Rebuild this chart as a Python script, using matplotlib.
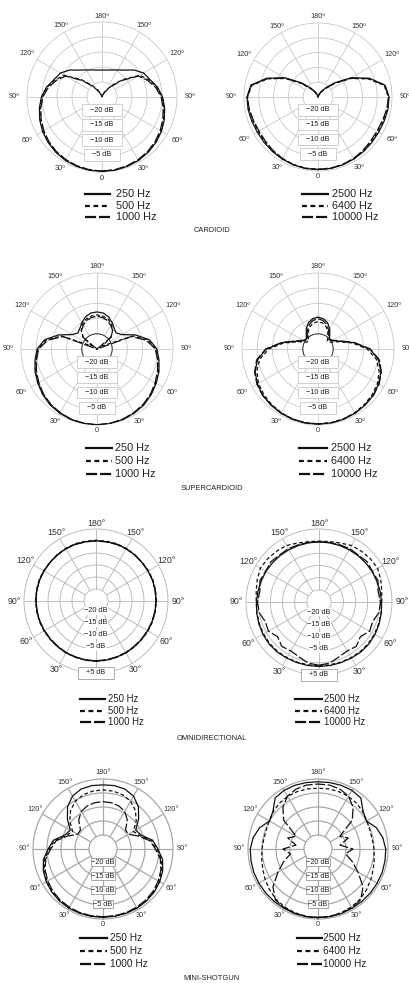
import numpy as np
import matplotlib
matplotlib.use('Agg')
import matplotlib.pyplot as plt
from matplotlib.lines import Line2D

plt.rcParams['font.family'] = ['Liberation Sans', 'DejaVu Sans']

W, H = 409, 983

# angles (deg) where the responses were read; 0 = on axis, patterns are symmetric
angles = [0, 10, 20, 30, 40, 50, 60, 70, 80, 90, 100, 110, 120, 130, 140, 150, 160, 170, 180]

# CARDIOID, dB
card_250 = [-0.2, -0.2, -0.4, -0.6, -1.0, -1.5, -2.1, -2.9, -3.8, -4.8, -6.2, -8.0, -9.0, -11.0, -13.3, -14.6, -15.4, -15.9, -16.0]
card_500 = [-0.2, -0.3, -0.5, -0.7, -1.1, -1.6, -2.3, -3.1, -4.0, -5.0, -6.4, -8.3, -10.5, -16.0, -20.0, -22.5, -24.0, -24.8, -25.0]
card_1000 = [-0.3, -0.4, -0.6, -0.9, -1.3, -1.9, -2.6, -3.4, -4.3, -5.3, -6.8, -8.8, -11.0, -16.5, -20.5, -23.0, -24.3, -24.9, -25.0]
card_2500 = [-0.5, -0.5, -0.6, -0.8, -1.0, -1.2, -1.3, -1.2, -1.0, -1.0, -2.0, -6.5, -12.0, -17.5, -21.0, -23.0, -24.2, -24.8, -25.0]
card_6400 = [-0.6, -0.6, -0.7, -0.9, -1.2, -1.5, -1.7, -1.6, -1.3, -1.2, -2.3, -7.0, -12.5, -18.0, -21.5, -23.3, -24.4, -24.9, -25.0]
card_10000 = [-0.5, -0.5, -0.7, -1.0, -1.4, -1.8, -2.0, -1.8, -1.4, -1.1, -2.1, -6.8, -12.3, -17.8, -21.2, -23.1, -24.3, -24.8, -25.0]

# SUPERCARDIOID
super_250 = [0.0, -0.1, -0.3, -0.6, -1.0, -1.7, -2.5, -3.3, -4.3, -5.3, -7.5, -11.5, -15.5, -16.8, -16.2, -15.0, -13.8, -13.0, -12.8]
super_500 = [0.0, -0.1, -0.3, -0.7, -1.1, -1.8, -2.7, -3.5, -4.6, -5.6, -8.0, -12.5, -23.0, -19.0, -17.0, -15.5, -14.5, -14.0, -13.8]
super_1000 = [-0.1, -0.2, -0.4, -0.8, -1.3, -2.0, -2.9, -3.8, -4.8, -5.8, -8.5, -13.0, -25.0, -19.0, -17.0, -16.0, -15.0, -14.5, -14.2]
super_2500 = [-0.3, -0.3, -0.4, -0.6, -0.9, -1.3, -2.0, -3.0, -4.8, -8.0, -13.0, -17.5, -19.5, -20.0, -19.0, -17.3, -15.8, -14.9, -14.5]
super_6400 = [-0.4, -0.4, -0.5, -0.8, -1.2, -1.7, -2.4, -3.6, -5.5, -8.8, -13.5, -18.0, -20.5, -21.0, -20.0, -18.5, -17.2, -16.3, -16.0]
super_10000 = [-0.3, -0.3, -0.5, -0.7, -1.0, -1.2, -1.8, -2.8, -4.5, -7.8, -12.8, -17.2, -19.3, -20.3, -19.5, -18.0, -16.5, -15.5, -15.0]

# OMNIDIRECTIONAL
omni_250 = [0.0, 0.0, -0.1, -0.1, -0.2, -0.2, -0.2, -0.1, 0.0, 0.0, 0.1, 0.1, 0.0, 0.0, 0.1, 0.2, 0.2, 0.1, 0.1]
omni_500 = [0.1, 0.1, 0.0, 0.0, -0.1, -0.1, 0.0, 0.1, 0.1, 0.2, 0.2, 0.3, 0.2, 0.1, 0.2, 0.3, 0.4, 0.3, 0.3]
omni_1000 = [-0.1, -0.1, -0.2, -0.2, -0.3, -0.3, -0.2, -0.1, -0.1, 0.0, 0.0, 0.1, 0.1, 0.0, 0.0, 0.1, 0.1, 0.0, 0.0]
omni_2500 = [1.5, 1.5, 1.5, 1.6, 1.8, 1.8, 1.6, 1.3, 1.0, 0.7, 0.5, 0.3, 0.2, 0.0, -0.1, -0.2, -0.3, -0.3, -0.3]
omni_6400 = [1.2, 1.2, 1.3, 1.4, 1.5, 1.5, 1.3, 1.1, 0.9, 0.8, 1.2, 2.0, 2.8, 2.6, 2.2, 1.8, 0.8, 0.2, 0.0]
omni_10000 = [1.0, 0.5, -1.0, -1.8, -1.2, -2.8, -1.0, -1.5, 0.0, 0.3, -0.3, 0.8, 0.3, 0.8, 0.2, 0.3, 0.0, -0.2, -0.3]

# MINI-SHOTGUN
shot_250 = [-0.6, -0.6, -0.6, -0.6, -0.8, -1.1, -1.6, -2.3, -3.4, -5.4, -7.0, -10.5, -11.5, -8.4, -5.3, -3.2, -2.2, -2.0, -2.1]
shot_500 = [-0.7, -0.7, -0.7, -0.8, -1.0, -1.3, -1.9, -2.7, -3.8, -5.8, -7.5, -11.0, -12.5, -9.5, -7.0, -5.3, -4.4, -4.0, -3.9]
shot_1000 = [-0.8, -0.8, -0.8, -1.0, -1.2, -1.6, -2.2, -3.0, -4.2, -6.3, -8.0, -11.5, -14.5, -14.5, -11.5, -9.5, -8.6, -8.2, -8.1]
shot_2500 = [-0.5, -0.5, -0.5, -0.6, -0.6, -0.6, -0.6, -0.6, -0.7, -0.8, -1.5, -2.8, -5.0, -4.0, -1.2, -0.8, -0.8, -0.9, -1.0]
shot_6400 = [-0.6, -0.6, -0.8, -1.1, -1.6, -2.4, -3.2, -4.0, -4.6, -5.0, -5.3, -5.3, -4.9, -4.2, -3.6, -3.3, -3.2, -3.2, -3.3]
shot_10000 = [-0.5, -0.5, -0.6, -0.8, -1.3, -4.0, -8.5, -12.0, -15.0, -12.5, -17.0, -13.5, -16.0, -9.0, -5.5, -3.2, -2.2, -1.8, -1.8]

freq_low = ['250 Hz', '500 Hz', '1000 Hz']
freq_high = ['2500 Hz', '6400 Hz', '10000 Hz']
titles = ['CARDIOID', 'SUPERCARDIOID', 'OMNIDIRECTIONAL', 'MINI-SHOTGUN']
tick_angles = [0, 30, 60, 90, 120, 150, 180, 210, 240, 270, 300, 330]
tick_names = ['0', '30', '60', '90', '120', '150', '180', '150', '120', '90', '60', '30']

curve_styles = ['-', (0, (3, 2)), (0, (8, 2))]
legend_styles = ['-', (0, (2.2, 1.6)), (0, (5.0, 1.3))]

fig = plt.figure(figsize=(W / 100, H / 100), dpi=100)
lay = fig.add_axes([0, 0, 1, 1])
lay.set_xlim(0, W)
lay.set_ylim(H, 0)
lay.axis('off')


def mirror(vals):
    a = np.array(angles, dtype=float)
    th = np.r_[a, 360 - a[::-1][1:]]
    r = np.r_[vals, vals[::-1][1:]]
    return np.deg2rad(th), r


def panel(cx, cy, R, series, top=0, deg='\u00ba', kind='box', gcol='#c4c4c4', glw=0.55,
          tick_fs=5.3, tick_off=(6, 7), inner_col=None):
    ax = fig.add_axes([(cx - R) / W, 1 - (cy + R) / H, 2 * R / W, 2 * R / H], projection='polar')
    ax.set_theta_zero_location('S')
    ax.set_ylim(-25, top)
    rings = [-20, -15, -10, -5] + ([0] if top > 0 else [])
    ax.set_rgrids(rings, labels=[''] * len(rings))
    ax.set_xticks([])
    ax.yaxis.grid(True, color=gcol, lw=glw)
    ax.spines['polar'].set_color(gcol)
    ax.spines['polar'].set_linewidth(glw)
    ax.vlines(np.deg2rad(tick_angles), -20, top, color=gcol, lw=glw, zorder=1)
    if inner_col:
        tt = np.linspace(0, 2 * np.pi, 200)
        ax.plot(tt, np.full_like(tt, -20), color=inner_col, lw=0.7, zorder=2)
    for vals, ls in zip(series, curve_styles):
        th, r = mirror(vals)
        ax.plot(th, r, color='#111111', lw=0.9, ls=ls, zorder=3)

    # angle labels (omni charts have no "0" at the bottom, the +5 dB box sits there)
    for a, n in zip(tick_angles, tick_names):
        if a == 0 and kind == 'omni':
            continue
        t = np.deg2rad(a)
        off = tick_off[0] + tick_off[1] * np.sin(t) ** 2
        lbl = n if a == 0 else n + deg
        ax.annotate(lbl, xy=(t, top), xytext=(off * np.sin(t), -off * np.cos(t)),
                    textcoords='offset pixels', ha='center', va='center',
                    fontsize=tick_fs, color='#333333', annotation_clip=False)

    # dB labels
    lab_db = [-20, -15, -10, -5] + ([5] if top > 0 else [])
    for d in lab_db:
        s = ('+%d dB' % d) if d > 0 else ('\u2212%d dB' % -d)
        if kind == 'box':
            txt = '   ' + s + '   '
            bb = dict(boxstyle='square,pad=0.3', fc='white', ec='#c8c8c8', lw=0.6)
            dy = 2
        elif kind == 'omni':
            txt = s
            if d > 0:
                txt = '   ' + s + '   '
                bb = dict(boxstyle='square,pad=0.35', fc='white', ec='#a0a0a0', lw=0.6)
                dy = 0
            else:
                bb = dict(boxstyle='square,pad=0.08', fc='white', ec='none')
                dy = 2
        else:
            txt = s
            bb = dict(boxstyle='square,pad=0.1', fc='white', ec='#999999', lw=0.6)
            dy = 1
        ax.annotate(txt, xy=(0, d), xytext=(0, dy), textcoords='offset pixels',
                    ha='center', va='center', fontsize=5.3, color='#222222',
                    bbox=bb, zorder=6, annotation_clip=False)
    return ax


# row 1 cardioid
panel(102, 97, 75, [card_250, card_500, card_1000])
panel(318, 97, 74, [card_2500, card_6400, card_10000])
# row 2 supercardioid
panel(97, 349, 76, [super_250, super_500, super_1000], inner_col='#333333')
panel(318, 349, 76, [super_2500, super_6400, super_10000], inner_col='#333333')
# row 3 omni
panel(96, 601, 72, [omni_250, omni_500, omni_1000], top=5, deg='\u00b0', kind='omni',
      gcol='#b4b4b4', glw=0.6, tick_fs=6.3, tick_off=(6, 4))
panel(319, 602, 73, [omni_2500, omni_6400, omni_10000], top=5, deg='\u00b0', kind='omni',
      gcol='#b4b4b4', glw=0.6, tick_fs=6.3, tick_off=(6, 4))
# row 4 mini-shotgun
panel(103, 849, 70, [shot_250, shot_500, shot_1000], deg='\u00b0', kind='tight',
      gcol='#a8a8a8', glw=0.9, tick_fs=5.3, tick_off=(6, 3))
panel(318, 849, 70, [shot_2500, shot_6400, shot_10000], deg='\u00b0', kind='tight',
      gcol='#a8a8a8', glw=0.9, tick_fs=5.3, tick_off=(6, 3))

# legends and section titles
leg_rows = [(194, 206, 217), (448, 461, 474), (699, 711, 722), (938, 951, 964)]
leg_x = [((85, 110, 116), (302, 328, 332)), ((86, 112, 115), (299, 327, 331)),
         ((80, 105, 108), (295, 322, 324)), ((80, 107, 110), (297, 322, 323))]
leg_fs = [7.8, 7.8, 6.9, 7.3]
title_y = [231, 488, 739, 978]

for i in range(4):
    for (x0, x1, xt), names in zip(leg_x[i], [freq_low, freq_high]):
        for y, ls, nm in zip(leg_rows[i], legend_styles, names):
            lay.add_line(Line2D([x0, x1], [y, y], color='#111111', lw=1.6, ls=ls))
            lay.text(xt, y, nm, fontsize=leg_fs[i], va='center', ha='left', color='#222222')
    lay.text(212, title_y[i], titles[i], fontsize=5.4, ha='center', va='center', color='#222222')

fig.savefig('out.png', dpi=100)
